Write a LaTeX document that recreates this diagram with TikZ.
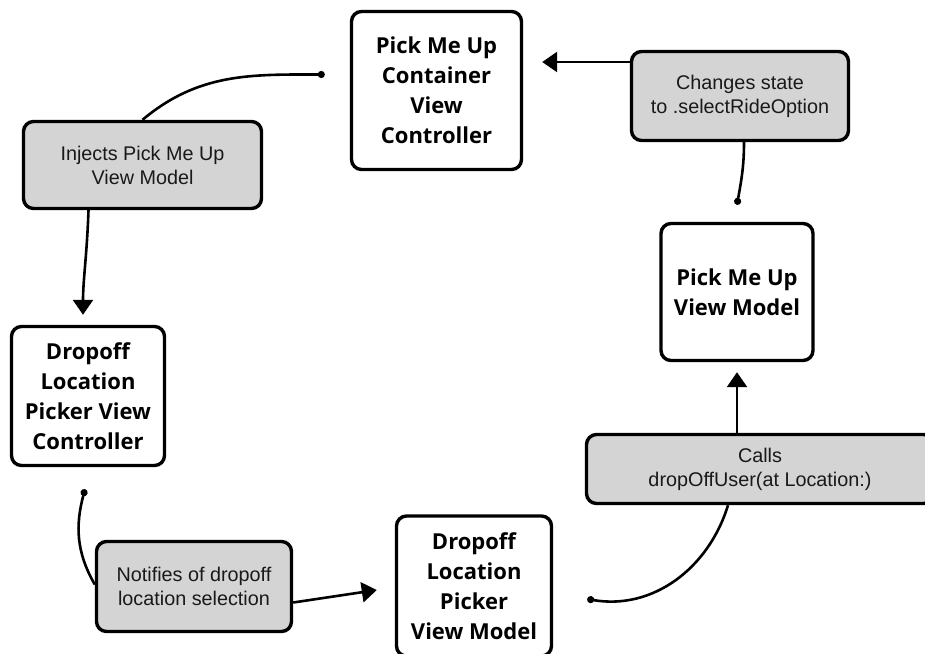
\documentclass[tikz,border=0pt]{standalone}
\usepackage{fontspec}
\newfontfamily\boxfont{Open Sans}
\newfontfamily\msgfont{Liberation Sans}
\usepackage{tikz}
\usetikzlibrary{positioning,arrows.meta,calc}
\tikzset{
  vc/.style={draw=black, line width=3.4pt, fill=white, rounded corners=10pt, align=center, inner sep=0pt, font=\boxfont\bfseries\fontsize{22}{30}\selectfont},
  msg/.style={draw=black, line width=3.4pt, fill=black!17, rounded corners=10pt, align=center, inner sep=0pt, text=black!90, font=\msgfont\fontsize{19.8}{24}\selectfont},
  fl/.style={-{Triangle[length=15pt,width=20pt]}, line width=2.6pt},
  dl/.style={{Circle[length=7pt]}-, line width=2.6pt},
}
\begin{document}
\begin{tikzpicture}[x=1pt,y=1pt]
\useasboundingbox (0,0) rectangle (925,-653);
\clip (0,0) rectangle (925,-653);
\node[vc, minimum width=170pt, minimum height=158pt] (cvc) at (436.5,-90.5) {Pick Me Up\\Container\\View\\Controller};
\node[msg, minimum width=238pt, minimum height=87pt] (inj) at (142.5,-165) {Injects Pick Me Up\\View Model};
\node[msg, minimum width=217pt, minimum height=89pt] (chg) at (740,-96) {Changes state\\to .selectRideOption};
\node[vc, minimum width=152pt, minimum height=137pt] (pvm) at (737,-292) {Pick Me Up\\View Model};
\node[vc, minimum width=153pt, minimum height=139pt] (dvc) at (88,-396) {Dropoff\\Location\\Picker View\\Controller};
\node[msg, minimum width=195pt, minimum height=90pt] (ntf) at (194,-586.5) {Notifies of dropoff\\location selection};
\node[vc, minimum width=155pt, minimum height=140pt] (dvm) at (474,-586) {Dropoff\\Location\\Picker\\View Model};
\node[msg, minimum width=347pt, minimum height=69pt] (cls) at (760,-469) {Calls\\dropOffUser(at Location:)};
\coordinate (cvcout) at ([xshift=-25pt,yshift=16pt]cvc.west);
\coordinate (dvcout) at ([xshift=-3pt,yshift=-22pt]dvc.south);
\coordinate (dvmout) at ([xshift=34pt,yshift=-13pt]dvm.east);
\coordinate (pvmout) at ([yshift=17pt]pvm.north);
\coordinate (chgout) at ([yshift=34pt]chg.west);
\draw[dl] (cvcout) to[out=180,in=40] (inj.north);
\draw[fl, shorten >=10pt] ([xshift=-54pt]inj.south) to[out=-92,in=90] ([xshift=-5pt]dvc.north);
\draw[dl] (dvcout) to[out=-105,in=120] ([yshift=2pt]ntf.west);
\draw[fl] ([yshift=-16pt]ntf.east) -- ([xshift=-18pt,yshift=-4pt]dvm.west);
\draw[dl] (dvmout) to[out=-10,in=-107] ([xshift=-32pt]cls.south);
\draw[fl, shorten >=10pt] (cls.north -| pvm.south) -- (pvm.south);
\draw[dl] (pvmout) to[out=80,in=-90] ([xshift=4pt]chg.south);
\draw[fl, shorten >=19pt] (chgout) -- (chgout -| cvc.east);
\end{tikzpicture}
\end{document}
